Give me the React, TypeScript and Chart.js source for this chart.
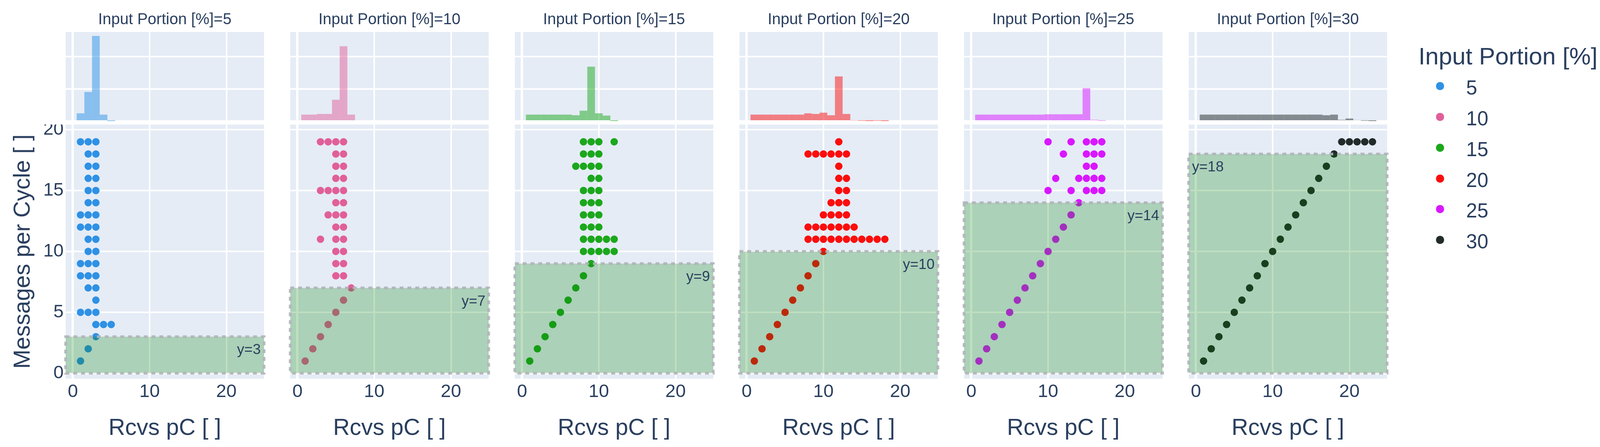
import { useEffect, useRef } from "react";
import { Chart, registerables } from "chart.js";

Chart.register(...registerables);

const TEXT = "#2a3f5f";
const FONT = '"Liberation Sans", Arial, sans-serif';
Chart.defaults.font.family = FONT;
Chart.defaults.color = TEXT;

// facets: Input Portion [%]
const portions = [5, 10, 15, 20, 25, 30];
const colors = ["#2E91E5", "#E15F99", "#1CA71C", "#FB0D0D", "#DA16FF", "#222A2A"];
const histColors = [
  "rgba(46,145,229,0.5)",
  "rgba(225,95,153,0.5)",
  "rgba(28,167,28,0.5)",
  "rgba(251,13,13,0.5)",
  "rgba(218,22,255,0.5)",
  "rgba(34,42,42,0.5)",
];
// height of the shaded band (Messages per Cycle)
const thresholds = [3, 7, 9, 10, 14, 18];

// Rcvs pC values per row; row i is Messages per Cycle = i + 1
const rows5 = [[1], [2], [3], [3, 4, 5], [1, 2, 3], [3], [2, 3], [1, 2, 3], [1, 2, 3], [2, 3], [2, 3], [1, 2, 3], [1, 2, 3], [2, 3], [2, 3], [2, 3], [2, 3], [2, 3], [1, 2, 3]];
const rows10 = [[1], [2], [3], [4], [5], [6], [7], [5, 6], [5, 6], [5, 6], [3, 5, 6], [5, 6], [4, 5, 6], [5, 6], [3, 4, 5, 6], [5, 6], [5, 6], [5, 6], [3, 4, 5, 6]];
const rows15 = [[1], [2], [3], [4], [5], [6], [7], [8], [9], [8, 9, 10, 11, 12], [8, 9, 10, 11, 12], [8, 9, 10], [8, 9, 10], [8, 9, 10], [8, 9, 10], [9, 10], [7, 8, 9, 10], [8, 9, 10], [8, 9, 10, 12]];
const rows20 = [[1], [2], [3], [4], [5], [6], [7], [8], [9], [10], [8, 9, 10, 11, 12, 13, 14, 15, 16, 17, 18], [8, 9, 10, 11, 12, 13, 14], [10, 11, 12, 13], [11, 12, 13], [12, 13], [12, 13], [12], [8, 9, 10, 11, 12, 13], [12]];
const rows25 = [[1], [2], [3], [4], [5], [6], [7], [8], [9], [10], [11], [12], [13], [14], [10, 13, 15, 16, 17], [11, 14, 15, 16, 17], [15, 16], [12, 15, 16, 17], [10, 13, 15, 16, 17]];
const rows30 = [[1], [2], [3], [4], [5], [6], [7], [8], [9], [10], [11], [12], [13], [14], [15], [16], [17], [18], [19, 20, 21, 22, 23]];
const rows = [rows5, rows10, rows15, rows20, rows25, rows30];

// marginal histogram counts for Rcvs pC = 1, 2, 3, ...
const hist5 = [250, 910, 2640, 210, 10];
const hist10 = [210, 210, 230, 230, 670, 2320, 210];
const hist15 = [210, 210, 210, 210, 210, 210, 190, 330, 1690, 250, 180, 10];
const hist20 = [210, 210, 210, 210, 210, 210, 210, 250, 230, 270, 190, 1390, 230, 30, 20, 10, 20, 10];
const hist25 = [210, 210, 210, 210, 210, 210, 210, 210, 210, 220, 220, 220, 220, 220, 1020, 50, 20];
const hist30 = [210, 210, 210, 210, 210, 210, 210, 210, 210, 210, 210, 210, 210, 210, 210, 210, 190, 210, 50, 90, 40, 20, 10];
const hists = [hist5, hist10, hist15, hist20, hist25, hist30];

const xTicks = [0, 10, 20];
const yTicks = [0, 5, 10, 15, 20];
const histTicks = [0, 1000, 2000];

// layout, in pixels of the 4160 wide figure (x is squeezed to the window width)
const FIG_W = 4160;
const PANEL_LEFT = [171, 755, 1339, 1923, 2507, 3091];
const PANEL_W = 516;
const HIST_H = 315;
const MAIN_TOP = 319;
const MAIN_H = 826;
const X_MIN = -0.94;
const X_MAX = 24.91;
const Y_MIN = -0.45;
const Y_MAX = 20.42;
const HIST_MAX = 2760;

const plotBg = {
  id: "plotBg",
  beforeDraw(chart: any) {
    const { ctx, chartArea: a } = chart;
    ctx.save();
    ctx.fillStyle = "#E5ECF6";
    ctx.fillRect(a.left, a.top, a.width, a.height);
    ctx.restore();
  },
};

const band = {
  id: "band",
  afterDatasetsDraw(chart: any, _args: any, opts: any) {
    const { ctx, chartArea: a } = chart;
    const y = chart.scales.y;
    const top = y.getPixelForValue(opts.value);
    const bottom = y.getPixelForValue(0);
    ctx.save();
    ctx.fillStyle = "rgba(0,128,0,0.25)";
    ctx.fillRect(a.left, top, a.width, bottom - top);
    ctx.setLineDash([10, 10]);
    ctx.lineWidth = 7;
    ctx.strokeStyle = "rgba(176,179,185,0.9)";
    ctx.strokeRect(a.left, top, a.width, bottom - top);
    ctx.setLineDash([]);
    ctx.font = "37px " + FONT;
    ctx.fillStyle = TEXT;
    ctx.textBaseline = "alphabetic";
    ctx.textAlign = opts.left ? "left" : "right";
    ctx.fillText("y=" + opts.value, opts.left ? a.left + 8.5 : a.right - 8.5, top + 45);
    ctx.restore();
  },
};

const gridOpts = {
  color: "#ffffff",
  lineWidth: (c: any) => (c.tick && c.tick.value === 0 ? 6 : 4),
  drawTicks: false,
  offset: false,
};

function Panel({ index, sx }: { index: number; sx: number }) {
  const histRef = useRef<HTMLCanvasElement>(null);
  const mainRef = useRef<HTMLCanvasElement>(null);
  const first = index === 0;
  const left = Math.round(PANEL_LEFT[index] * sx);
  const width = Math.round(PANEL_W * sx);
  const yAxisW = first ? left : 10;
  const mainLeft = left - yAxisW;
  const mainW = yAxisW + width + 10;

  useEffect(() => {
    const histChart = new Chart(histRef.current!, {
      type: "bar",
      data: {
        datasets: [
          {
            data: hists[index].map((v, i) => ({ x: i + 1, y: v })),
            backgroundColor: histColors[index],
            borderWidth: 0,
            barPercentage: 1,
            categoryPercentage: 1,
            inflateAmount: 0,
          } as any,
        ],
      },
      options: {
        responsive: false,
        animation: false,
        devicePixelRatio: 1,
        events: [],
        layout: { autoPadding: false, padding: 0 },
        plugins: {
          legend: { display: false },
          tooltip: { enabled: false },
          title: {
            display: true,
            text: "Input Portion [%]=" + portions[index],
            font: { size: 40, weight: "normal" },
            color: TEXT,
            padding: { top: 27, bottom: 7 },
          },
        },
        scales: {
          x: {
            type: "linear",
            min: X_MIN,
            max: X_MAX,
            offset: false,
            afterBuildTicks: (s: any) => {
              s.ticks = xTicks.map((v) => ({ value: v }));
            },
            ticks: { display: false },
            grid: gridOpts,
            border: { display: false },
            afterFit: (s: any) => {
              s.height = 4;
              s.paddingLeft = 0;
              s.paddingRight = 0;
            },
          },
          y: {
            min: 0,
            max: HIST_MAX,
            afterBuildTicks: (s: any) => {
              s.ticks = histTicks.map((v) => ({ value: v }));
            },
            ticks: { display: false },
            grid: gridOpts,
            border: { display: false },
            afterFit: (s: any) => {
              s.width = 0;
              s.paddingTop = 0;
              s.paddingBottom = 0;
            },
          },
        },
      } as any,
      plugins: [plotBg],
    });

    const points = rows[index].flatMap((xs, i) => xs.map((x) => ({ x, y: i + 1 })));
    const mainChart = new Chart(mainRef.current!, {
      type: "scatter",
      data: {
        datasets: [
          {
            data: points,
            pointRadius: 9.5,
            pointBackgroundColor: colors[index],
            pointBorderWidth: 0,
            pointHoverRadius: 9.5,
          },
        ],
      },
      options: {
        responsive: false,
        animation: false,
        devicePixelRatio: 1,
        events: [],
        layout: { autoPadding: false, padding: { right: 10 } },
        plugins: {
          legend: { display: false },
          tooltip: { enabled: false },
          band: { value: thresholds[index], left: index === 5 },
        },
        scales: {
          x: {
            type: "linear",
            min: X_MIN,
            max: X_MAX,
            afterBuildTicks: (s: any) => {
              s.ticks = xTicks.map((v) => ({ value: v }));
            },
            ticks: { font: { size: 47 }, padding: 6, maxRotation: 0, color: TEXT, callback: (v: any) => String(v) },
            grid: gridOpts,
            border: { display: false },
            title: {
              display: true,
              text: "Rcvs pC [ ]",
              font: { size: 59 },
              color: TEXT,
              padding: { top: 0, bottom: 12 },
            },
            afterFit: (s: any) => {
              s.height = 175;
              s.paddingLeft = 0;
              s.paddingRight = 0;
            },
          },
          y: {
            min: Y_MIN,
            max: Y_MAX,
            afterBuildTicks: (s: any) => {
              s.ticks = yTicks.map((v) => ({ value: v }));
            },
            ticks: { display: first, font: { size: 47 }, padding: 5, color: TEXT, callback: (v: any) => String(v) },
            grid: gridOpts,
            border: { display: false },
            title: {
              display: first,
              text: "Messages per Cycle [ ]",
              font: { size: 59 },
              color: TEXT,
              padding: { top: 24, bottom: 0 },
            },
            afterFit: (s: any) => {
              s.width = yAxisW;
              s.paddingTop = 0;
              s.paddingBottom = 0;
            },
          },
        },
      } as any,
      plugins: [plotBg, band],
    });

    return () => {
      histChart.destroy();
      mainChart.destroy();
    };
  }, [index, sx]);

  return (
    <>
      <canvas
        ref={histRef}
        width={width}
        height={HIST_H}
        style={{ position: "absolute", left, top: 0 }}
      />
      <canvas
        ref={mainRef}
        width={mainW}
        height={MAIN_H}
        style={{ position: "absolute", left: mainLeft, top: MAIN_TOP }}
      />
    </>
  );
}

function Legend({ sx }: { sx: number }) {
  return (
    <>
      <div
        style={{
          position: "absolute",
          left: 3688 * sx,
          top: 112.5,
          font: "62px/62px " + FONT,
          color: TEXT,
          whiteSpace: "nowrap",
        }}
      >
        Input Portion [%]
      </div>
      {portions.map((p, i) => (
        <div key={p}>
          <div
            style={{
              position: "absolute",
              left: 3733 * sx,
              top: 210.2 + i * 78.8,
              width: 21,
              height: 21,
              borderRadius: "50%",
              background: colors[i],
            }}
          />
          <div
            style={{
              position: "absolute",
              left: 3812 * sx,
              top: 199.1 + i * 78.8,
              font: "51px/51px " + FONT,
              color: TEXT,
              whiteSpace: "nowrap",
            }}
          >
            {p}
          </div>
        </div>
      ))}
    </>
  );
}

export default function App() {
  // the window can be narrower than the figure: squeeze x so all of it shows
  const viewW = typeof window !== "undefined" ? window.innerWidth : FIG_W;
  const sx = Math.min(1, viewW / FIG_W);
  return (
    <div
      style={{
        position: "absolute",
        left: 0,
        top: 0,
        width: FIG_W * sx,
        height: 1145,
        background: "#ffffff",
        overflow: "hidden",
      }}
    >
      {portions.map((p, i) => (
        <Panel key={p} index={i} sx={sx} />
      ))}
      <Legend sx={sx} />
    </div>
  );
}
